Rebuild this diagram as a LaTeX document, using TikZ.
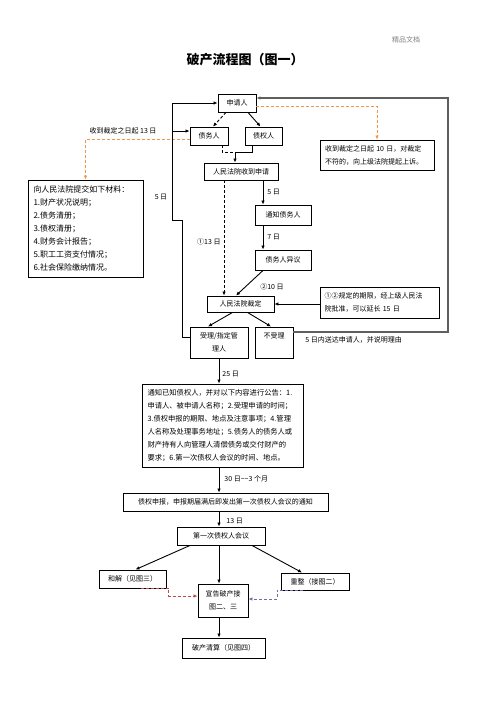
\documentclass[tikz,border=0pt]{standalone}
\usepackage{fontspec}
\newfontfamily\cjk{Noto Sans CJK SC}
\usepackage{xcolor}
\usetikzlibrary{arrows.meta,positioning}
\definecolor{appealorange}{RGB}{242,150,70}
\definecolor{mergered}{RGB}{190,75,72}
\definecolor{mergepurple}{RGB}{120,105,170}
\definecolor{loopgray}{RGB}{95,95,95}

\begin{document}
\begin{tikzpicture}[x=1pt,y=-1pt,>={Latex[length=4pt,width=3.5pt]},line width=0.9pt,
font=\cjk\fontsize{7}{13}\selectfont,
stage/.style={draw,line width=0.9pt,inner sep=1pt,align=center},
note/.style={draw,line width=0.9pt,inner sep=0pt,align=left},
tag/.style={inner sep=1pt},
dash35/.style={dash pattern=on 3pt off 2pt},
appeal/.style={->,appealorange,dash35},
toggle/.style={->,dash35}]
\useasboundingbox (0,0) rectangle (496,702);

% heading
\node[text=gray] (hdr) at (406,40) {精品文档};
\node[font=\cjk\bfseries\fontsize{13}{15}\selectfont] (title) at (245,60) {破产流程图（图一）};

% application stage
\node[stage,minimum width=38,minimum height=18] (sq) at (237,103) {申请人};
\node[stage,minimum width=38,minimum height=18] (debtor) at (209,136) {债务人};
\node[stage,minimum width=37,minimum height=18] (creditor) at (263.5,136) {债权人};
\node[stage,minimum width=74,minimum height=17] (court) at (241,171.5) {人民法院收到申请};
\node[note,minimum width=114,minimum height=30,text width=104] (appeal10) at (377,155)
  {收到裁定之日起 10 日，对裁定\\不符的，向上级法院提起上诉。};
\node[note,minimum width=115,minimum height=97,text width=104,
  font=\cjk\fontsize{8}{13}\selectfont] (materials) at (85.5,228.5)
  {向人民法院提交如下材料：\\1.财产状况说明；\\2.债务清册；\\3.债权清册；\\4.财务会计报告；\\5.职工工资支付情况；\\6.社会保险缴纳情况。};
\node[stage,minimum width=56,minimum height=20] (notify) at (283,215) {通知债务人};
\node[stage,minimum width=56,minimum height=20] (objection) at (283,260) {债务人异议};
\node[stage,minimum width=67,minimum height=16] (ruling) at (240.5,304) {人民法院裁定};
\node[note,minimum width=119,minimum height=31,text width=110] (extend) at (379.5,302.5)
  {①②规定的期限，经上级人民法\\院批准，可以延长 15 日};
\node[stage,minimum width=58,minimum height=31] (shouli) at (219,342.5) {受理/指定管\\理人};
\node[stage,minimum width=38,minimum height=31] (bushouli) at (274,342.5) {不受理\\\mbox{}};

% creditors' procedure
\node[note,minimum width=161,minimum height=83,text width=150,
  font=\cjk\fontsize{7.3}{13}\selectfont] (notice) at (222.5,425.5)
  {通知已知债权人，并对以下内容进行公告：1.\\申请人、被申请人名称；2.受理申请的时间；\\3.债权申报的期限、地点及注意事项；4.管理\\人名称及处理事务地址；5.债务人的债务人或\\财产持有人向管理人清偿债务或交付财产的\\要求；6.第一次债权人会议的时间、地点。};
\node[stage,minimum width=205,minimum height=18] (claim) at (225.5,502)
  {债权申报，申报期届满后即发出第一次债权人会议的通知};
\node[stage,minimum width=88,minimum height=18] (meeting) at (221,536) {第一次债权人会议};
\node[stage,minimum width=67,minimum height=18] (hejie) at (132.5,579) {和解（见图三）};
\node[stage,minimum width=50,minimum height=33] (xuangao) at (223,600.5) {宣告破产接\\图二、三};
\node[stage,minimum width=68,minimum height=17] (chongzheng) at (315,581.5) {重整（接图二）};
\node[stage,minimum width=83,minimum height=20] (liquidation) at (223.5,648) {破产清算（见图四）};

% helper columns
\coordinate (ax) at (263,0);
\coordinate (bx) at (224,0);
\coordinate (lpA) at (182,220);
\coordinate (lpB) at (172,220);
\coordinate (mg) at (235,152);
\coordinate (rtop) at (448,98);
\coordinate (dbW) at ([yshift=5pt]debtor.west);

% top part
\draw[toggle] ([xshift=-11pt]sq.south) -- ([xshift=4pt]debtor.north);
\draw[->] ([xshift=11pt]sq.south) -- ([xshift=-3pt]creditor.north);
\draw[dash35] ([xshift=13pt]debtor.south) |- (mg);
\draw[->] ([xshift=-11pt]creditor.south) |- (mg) -- (mg |- court.north);
\draw[appeal] ([yshift=-3pt]sq.east) -| (appeal10.north);
\draw[appeal] ([yshift=-3pt]debtor.west) -| (materials.north);
\node[tag] (l13) at (123,131) {收到裁定之日起 13 日};

% loop back to the applicant
\draw[->] ([yshift=5pt]shouli.west) -| (lpA) -- (lpB) |- (sq.west);
\draw[->] (dbW -| lpB) -- (dbW);
\node[tag] (l5a) at (161,197) {5 日};
\draw[->,loopgray,line width=1.6pt] ([yshift=10.5pt]bushouli.east) -| (rtop) -- ([yshift=5pt]sq.east);
\node[tag,anchor=west] (lreject) at (304,340) {5 日内送达申请人，并说明理由};

% court decision
\draw[->] (court.south -| ax) -- node[right,tag,xshift=3pt]{5 日} (notify.north -| ax);
\draw[->] (notify.south -| ax) -- node[right,tag,xshift=3pt]{7 日} (objection.north -| ax);
\draw[toggle] (court.south -| bx) -- node[left,tag,xshift=-2pt,yshift=-4pt]{①13 日} (ruling.north -| bx);
\draw[->] (objection.south -| ax) -- ([xshift=-4.5pt]ruling.north);
\node[tag] (l10) at (272,287) {②10 日};
\draw[->] (extend.west |- ruling.east) -- (ruling.east);
\draw[->] ([xshift=-8pt]ruling.south) -- ([xshift=-11pt]shouli.north);
\draw[->] ([xshift=7pt]ruling.south) -- ([xshift=-3pt]bushouli.north);

% creditors' procedure
\draw[->] (shouli.south) -- node[right,tag,xshift=2pt,yshift=-3pt]{25 日} (shouli.south |- notice.north);
\draw[->] (notice.south -| shouli) -- node[right,tag,xshift=4pt,yshift=1pt]{30 日\textasciitilde\textasciitilde3 个月} (claim.north -| shouli);
\draw[->] (claim.south -| shouli) -- node[right,tag,xshift=6pt,yshift=-2pt]{13 日} (meeting.north -| shouli);
\draw[->] ([xshift=-31pt]meeting.south) -- ([xshift=3pt]hejie.north);
\draw[->] (meeting.south -| shouli) -- (xuangao.north -| shouli);
\draw[->] ([xshift=31pt]meeting.south) -- ([xshift=-13pt]chongzheng.north);
\draw[->,mergered,dash35] ([xshift=8pt]hejie.south) -- ++(28,0) |- ([yshift=4.5pt]xuangao.west);
\draw[->,mergepurple,dash35] ([xshift=-12pt]chongzheng.south) -- ++(-26,0) |- ([yshift=1.5pt]xuangao.east);
\draw[->] (xuangao.south -| shouli) -- (liquidation.north -| shouli);
\end{tikzpicture}
\end{document}
